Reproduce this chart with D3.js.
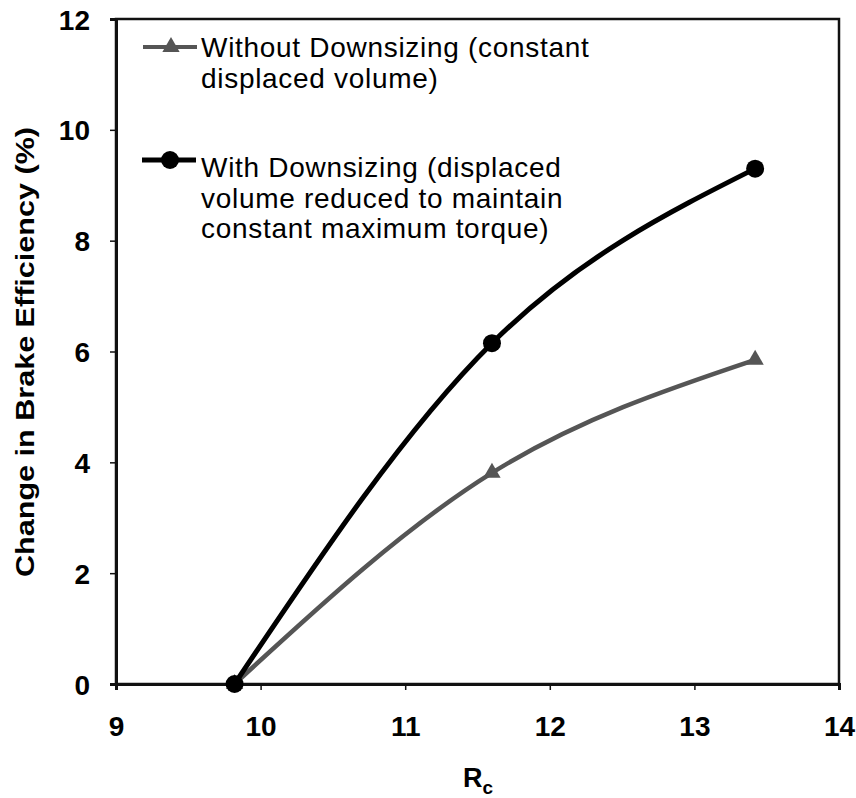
<!DOCTYPE html>
<html>
<head>
<meta charset="utf-8">
<script src="https://cdn.jsdelivr.net/npm/d3@7"></script>
<style>
  html, body { margin: 0; padding: 0; background: #fff; }
  svg { display: block; }
  text { font-family: "Liberation Sans", Arial, sans-serif; fill: #000; }
</style>
</head>
<body>
<script>
// ---- data ----
const rc = [9.82, 11.6, 13.42];
const withoutDownsizing = [0, 3.81, 5.85];
const withDownsizing = [0, 6.15, 9.3];
const xTicks = [9, 10, 11, 12, 13, 14];
const yTicks = [0, 2, 4, 6, 8, 10, 12];
const legendWithout = ["Without Downsizing (constant", "displaced volume)"];
const legendWith = ["With Downsizing (displaced", "volume reduced to maintain", "constant maximum torque)"];
const yTitle = "Change in Brake Efficiency (%)";

const W = 856, H = 798;
const svg = d3.select("body").append("svg").attr("width", W).attr("height", H);

const x = d3.scaleLinear().domain([9, 14]).range([116, 839]);
const y = d3.scaleLinear().domain([0, 12]).range([684, 19]);

// frame
svg.append("rect")
  .attr("x", x(9)).attr("y", y(12))
  .attr("width", x(14) - x(9)).attr("height", y(0) - y(12))
  .attr("fill", "none").attr("stroke", "#111").attr("stroke-width", 2.5);

// axes
const xAxis = svg.append("g").attr("transform", `translate(0,${y(0)})`)
  .call(d3.axisBottom(x).tickValues(xTicks).tickSize(6).tickPadding(26).tickFormat(d3.format("d")));
const yAxis = svg.append("g").attr("transform", `translate(${x(9)},0)`)
  .call(d3.axisLeft(y).tickValues(yTicks).tickSize(6).tickPadding(20).tickFormat(d3.format("d")));
[xAxis, yAxis].forEach(g => {
  g.select(".domain").attr("stroke", "#111").attr("stroke-width", 3);
  g.selectAll(".tick line").attr("stroke", "#111").attr("stroke-width", 1.5);
  g.selectAll(".tick text")
    .attr("font-family", "'Liberation Sans', Arial, sans-serif")
    .attr("font-weight", "bold").attr("font-size", 28).attr("fill", "#000");
});
yAxis.selectAll(".tick text").attr("dy", "0.36em");

// axis titles
const xt = svg.append("text")
  .attr("x", 478).attr("y", 787)
  .attr("text-anchor", "middle")
  .attr("font-weight", "bold").attr("font-size", 27);
xt.append("tspan").text("R");
xt.append("tspan").attr("font-size", 19).attr("dy", 7).text("c");

svg.append("text")
  .attr("transform", `translate(34,${352}) rotate(-90)`)
  .attr("text-anchor", "middle")
  .attr("font-weight", "bold").attr("font-size", 26)
  .attr("textLength", 450).attr("lengthAdjust", "spacingAndGlyphs")
  .text(yTitle);

// lines
const line = d3.line().x(d => x(d[0])).y(d => y(d[1])).curve(d3.curveNatural);
const ptsWithout = rc.map((r, i) => [r, withoutDownsizing[i]]);
const ptsWith = rc.map((r, i) => [r, withDownsizing[i]]);

const grayCol = "#555";
svg.append("path").datum(ptsWithout).attr("d", line)
  .attr("fill", "none").attr("stroke", grayCol).attr("stroke-width", 4.5);
svg.append("path").datum(ptsWith).attr("d", line)
  .attr("fill", "none").attr("stroke", "#000").attr("stroke-width", 5);

const tri = d3.symbol().type(d3.symbolTriangle).size(130);
svg.selectAll(".tri").data(ptsWithout).enter().append("path")
  .attr("transform", d => `translate(${x(d[0])},${y(d[1])})`)
  .attr("d", tri).attr("fill", grayCol);
svg.selectAll(".dot").data(ptsWith).enter().append("circle")
  .attr("cx", d => x(d[0])).attr("cy", d => y(d[1])).attr("r", 9).attr("fill", "#000");

// legend
const lg = svg.append("g");
lg.append("line").attr("x1", 143).attr("x2", 197).attr("y1", 47).attr("y2", 47)
  .attr("stroke", grayCol).attr("stroke-width", 4);
lg.append("path").attr("transform", "translate(171,47)").attr("d", tri).attr("fill", grayCol);
legendWithout.forEach((t, i) => {
  lg.append("text").attr("x", 201).attr("y", 57 + i * 31)
    .attr("font-size", 28).attr("letter-spacing", 0.7).text(t);
});
lg.append("line").attr("x1", 142).attr("x2", 196).attr("y1", 160).attr("y2", 160)
  .attr("stroke", "#000").attr("stroke-width", 5);
lg.append("circle").attr("cx", 170).attr("cy", 160).attr("r", 9).attr("fill", "#000");
legendWith.forEach((t, i) => {
  lg.append("text").attr("x", 201).attr("y", 177 + i * 30.5)
    .attr("font-size", 28).attr("letter-spacing", 0.7).text(t);
});
</script>
</body>
</html>
